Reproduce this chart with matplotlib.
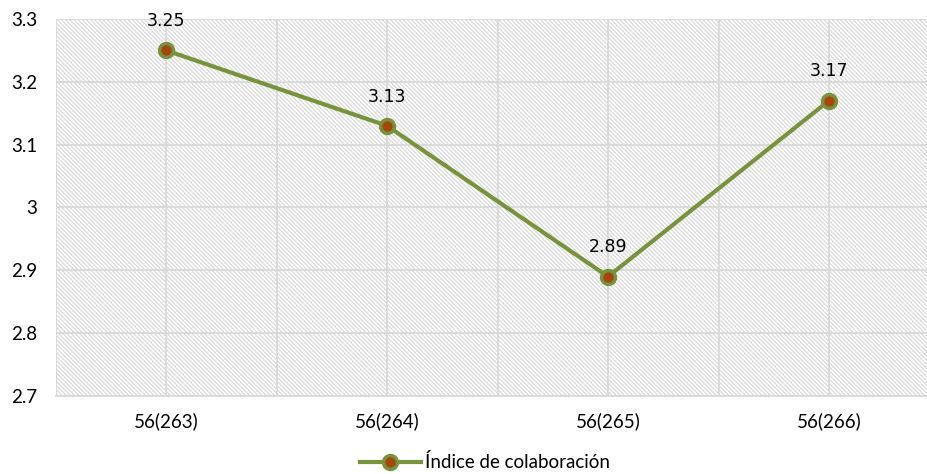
import matplotlib.pyplot as plt
from matplotlib.ticker import FuncFormatter, MultipleLocator

categories = ['56(263)', '56(264)', '56(265)', '56(266)']
valores = [3.25, 3.13, 2.89, 3.17]
serie = 'Índice de colaboración'

verde = '#77933C'
relleno = '#A5460F'
gris = '#d9d9d9'

plt.rcParams['hatch.color'] = '#d9d9d9'
plt.rcParams['hatch.linewidth'] = 0.9

fig = plt.figure(figsize=(9.27, 4.74), dpi=100)
ax = fig.add_axes([0.0599, 0.1646, 0.9536, 0.7954])

# fondo rayado
ax.patch.set_facecolor('white')
ax.patch.set_hatch('\\' * 8)
ax.patch.set_edgecolor('#d9d9d9')
ax.patch.set_linewidth(0)

x = list(range(len(categories)))
ax.plot(x, valores, color=verde, lw=3, marker='o', markersize=10,
        markerfacecolor=relleno, markeredgecolor=verde, markeredgewidth=2.5,
        label=serie, zorder=3)

for xi, v in zip(x, valores):
    ax.annotate('{:g}'.format(v), (xi, v), xytext=(0, 21), textcoords='offset points',
                ha='center', va='center', fontsize=12.5, family='DejaVu Sans')

ax.set_xlim(-0.5, 3.5)
ax.set_ylim(2.7, 3.3)
ax.yaxis.set_major_locator(MultipleLocator(0.1))
ax.yaxis.set_major_formatter(FuncFormatter(lambda v, p: '{:g}'.format(round(v, 2))))
ax.set_xticks(x)
ax.set_xticklabels(categories)
ax.set_xticks([i - 0.5 for i in range(5)], minor=True)

ax.grid(True, which='both', color=gris, lw=1.3, zorder=1)
ax.set_axisbelow(True)
ax.tick_params(axis='both', which='both', length=0)
ax.tick_params(axis='x', pad=12, labelsize=13.5)
ax.tick_params(axis='y', pad=13, labelsize=13.5)
for lab in ax.get_xticklabels() + ax.get_yticklabels():
    lab.set_family('Lato')

for s in ['top', 'right', 'left']:
    ax.spines[s].set_visible(False)
ax.spines['bottom'].set_color(gris)
ax.spines['bottom'].set_linewidth(1.3)

fig.legend(loc='center', bbox_to_anchor=(0.523, 0.025), frameon=False,
           prop={'family': 'Lato', 'size': 13.5}, handlelength=3.3, handletextpad=0.2)

fig.savefig('out.png', dpi=100)
